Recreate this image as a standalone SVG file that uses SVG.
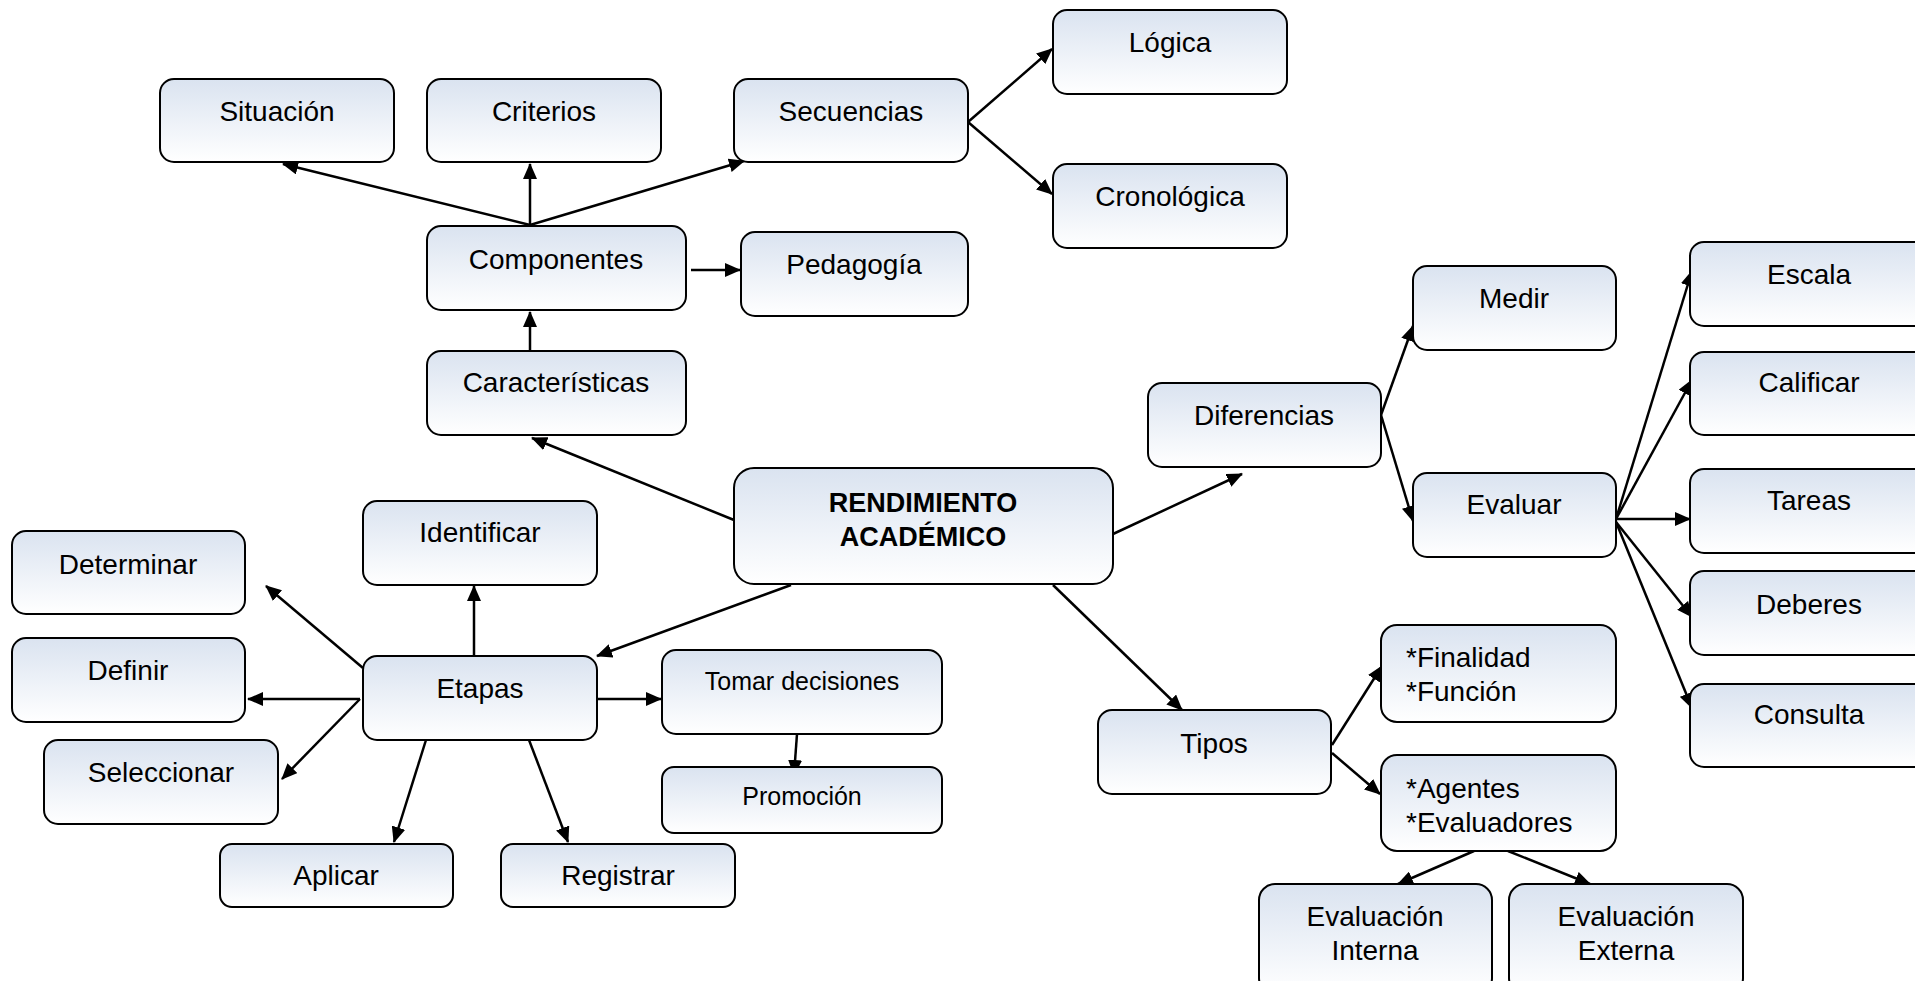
<svg xmlns="http://www.w3.org/2000/svg" width="1915" height="981" viewBox="0 0 1915 981">
<defs>
<linearGradient id="g" x1="0" y1="0" x2="0" y2="1">
<stop offset="0" stop-color="#dae3f0"/>
<stop offset="1" stop-color="#ffffff"/>
</linearGradient>
<marker id="ah" markerUnits="userSpaceOnUse" markerWidth="16" markerHeight="14" refX="15" refY="7" orient="auto">
<path d="M0,0 L16,7 L0,14 z" fill="#000"/>
</marker>
<style>
.box{fill:url(#g);stroke:#000;stroke-width:2;}
.t{font-family:"Liberation Sans",Arial,sans-serif;font-size:28px;fill:#000;text-anchor:middle;}
.s{font-size:25px;}
.l{text-anchor:start;}
.b{font-weight:bold;font-size:27px;}
.c{stroke:#000;stroke-width:2.5;fill:none;marker-end:url(#ah);}
</style>
</defs>
<rect width="1915" height="981" fill="#fff"/>
<g id="connectors">
<line class="c" x1="530" y1="225" x2="283" y2="164"/>
<line class="c" x1="530" y1="225" x2="530" y2="164"/>
<line class="c" x1="530" y1="225" x2="744" y2="161"/>
<line class="c" x1="968" y1="122" x2="1052" y2="49"/>
<line class="c" x1="968" y1="122" x2="1052" y2="194"/>
<line class="c" x1="691" y1="270" x2="740" y2="270"/>
<line class="c" x1="530" y1="350" x2="530" y2="312"/>
<line class="c" x1="734" y1="520" x2="532" y2="438"/>
<line class="c" x1="791" y1="585" x2="597" y2="656"/>
<line class="c" x1="474" y1="656" x2="474" y2="586"/>
<line class="c" x1="363" y1="668" x2="266" y2="586"/>
<line class="c" x1="360" y1="699" x2="248" y2="699"/>
<line class="c" x1="360" y1="699" x2="282" y2="779"/>
<line class="c" x1="426" y1="740" x2="394" y2="842"/>
<line class="c" x1="529" y1="740" x2="568" y2="842"/>
<line class="c" x1="597" y1="699" x2="661" y2="699"/>
<line class="c" x1="797" y1="734" x2="794" y2="775"/>
<line class="c" x1="1113" y1="534" x2="1242" y2="474"/>
<line class="c" x1="1053" y1="585" x2="1182" y2="710"/>
<line class="c" x1="1381" y1="415" x2="1413" y2="326"/>
<line class="c" x1="1381" y1="415" x2="1413" y2="521"/>
<line class="c" x1="1616" y1="519" x2="1692" y2="271"/>
<line class="c" x1="1616" y1="519" x2="1692" y2="380"/>
<line class="c" x1="1616" y1="519" x2="1690" y2="519"/>
<line class="c" x1="1616" y1="522" x2="1692" y2="617"/>
<line class="c" x1="1616" y1="522" x2="1692" y2="708"/>
<line class="c" x1="1332" y1="745" x2="1382" y2="666"/>
<line class="c" x1="1332" y1="753" x2="1380" y2="794"/>
<line class="c" x1="1474" y1="851" x2="1398" y2="884"/>
<line class="c" x1="1508" y1="851" x2="1590" y2="884"/>
</g>
<g id="n-situacion"><rect class="box" x="160" y="79" width="234" height="83" rx="14"/><text class="t" x="277" y="121">Situación</text></g>
<g id="n-criterios"><rect class="box" x="427" y="79" width="234" height="83" rx="14"/><text class="t" x="544" y="121">Criterios</text></g>
<g id="n-secuencias"><rect class="box" x="734" y="79" width="234" height="83" rx="14"/><text class="t" x="851" y="121">Secuencias</text></g>
<g id="n-logica"><rect class="box" x="1053" y="10" width="234" height="84" rx="14"/><text class="t" x="1170" y="52">Lógica</text></g>
<g id="n-cronologica"><rect class="box" x="1053" y="164" width="234" height="84" rx="14"/><text class="t" x="1170" y="206">Cronológica</text></g>
<g id="n-componentes"><rect class="box" x="427" y="226" width="259" height="84" rx="14"/><text class="t" x="556" y="269">Componentes</text></g>
<g id="n-pedagogia"><rect class="box" x="741" y="232" width="227" height="84" rx="14"/><text class="t" x="854" y="274">Pedagogía</text></g>
<g id="n-caracteristicas"><rect class="box" x="427" y="351" width="259" height="84" rx="14"/><text class="t" x="556" y="392">Características</text></g>
<g id="n-rendimiento"><rect class="box" x="734" y="468" width="379" height="116" rx="20"/><text class="t b" x="923" y="512">RENDIMIENTO</text><text class="t b" x="923" y="546">ACADÉMICO</text></g>
<g id="n-identificar"><rect class="box" x="363" y="501" width="234" height="84" rx="14"/><text class="t" x="480" y="542">Identificar</text></g>
<g id="n-determinar"><rect class="box" x="12" y="531" width="233" height="83" rx="14"/><text class="t" x="128" y="574">Determinar</text></g>
<g id="n-definir"><rect class="box" x="12" y="638" width="233" height="84" rx="14"/><text class="t" x="128" y="680">Definir</text></g>
<g id="n-seleccionar"><rect class="box" x="44" y="740" width="234" height="84" rx="14"/><text class="t" x="161" y="782">Seleccionar</text></g>
<g id="n-etapas"><rect class="box" x="363" y="656" width="234" height="84" rx="14"/><text class="t" x="480" y="698">Etapas</text></g>
<g id="n-aplicar"><rect class="box" x="220" y="844" width="233" height="63" rx="12"/><text class="t" x="336" y="885">Aplicar</text></g>
<g id="n-registrar"><rect class="box" x="501" y="844" width="234" height="63" rx="12"/><text class="t" x="618" y="885">Registrar</text></g>
<g id="n-tomar"><rect class="box" x="662" y="650" width="280" height="84" rx="14"/><text class="t s" x="802" y="690">Tomar decisiones</text></g>
<g id="n-promocion"><rect class="box" x="662" y="767" width="280" height="66" rx="12"/><text class="t s" x="802" y="805">Promoción</text></g>
<g id="n-diferencias"><rect class="box" x="1148" y="383" width="233" height="84" rx="14"/><text class="t" x="1264" y="425">Diferencias</text></g>
<g id="n-medir"><rect class="box" x="1413" y="266" width="203" height="84" rx="14"/><text class="t" x="1514" y="308">Medir</text></g>
<g id="n-evaluar"><rect class="box" x="1413" y="473" width="203" height="84" rx="14"/><text class="t" x="1514" y="514">Evaluar</text></g>
<g id="n-escala"><rect class="box" x="1690" y="242" width="240" height="84" rx="14"/><text class="t" x="1809" y="284">Escala</text></g>
<g id="n-calificar"><rect class="box" x="1690" y="352" width="240" height="83" rx="14"/><text class="t" x="1809" y="392">Calificar</text></g>
<g id="n-tareas"><rect class="box" x="1690" y="469" width="240" height="84" rx="14"/><text class="t" x="1809" y="510">Tareas</text></g>
<g id="n-deberes"><rect class="box" x="1690" y="571" width="240" height="84" rx="14"/><text class="t" x="1809" y="614">Deberes</text></g>
<g id="n-consulta"><rect class="box" x="1690" y="684" width="240" height="83" rx="14"/><text class="t" x="1809" y="724">Consulta</text></g>
<g id="n-finalidad"><rect class="box" x="1381" y="625" width="235" height="97" rx="16"/><text class="t l" x="1406" y="667">*Finalidad</text><text class="t l" x="1406" y="701">*Función</text></g>
<g id="n-tipos"><rect class="box" x="1098" y="710" width="233" height="84" rx="14"/><text class="t" x="1214" y="753">Tipos</text></g>
<g id="n-agentes"><rect class="box" x="1381" y="755" width="235" height="96" rx="16"/><text class="t l" x="1406" y="798">*Agentes</text><text class="t l" x="1406" y="832">*Evaluadores</text></g>
<g id="n-interna"><rect class="box" x="1259" y="884" width="233" height="110" rx="16"/><text class="t" x="1375" y="926">Evaluación</text><text class="t" x="1375" y="960">Interna</text></g>
<g id="n-externa"><rect class="box" x="1509" y="884" width="234" height="110" rx="16"/><text class="t" x="1626" y="926">Evaluación</text><text class="t" x="1626" y="960">Externa</text></g>
</svg>
